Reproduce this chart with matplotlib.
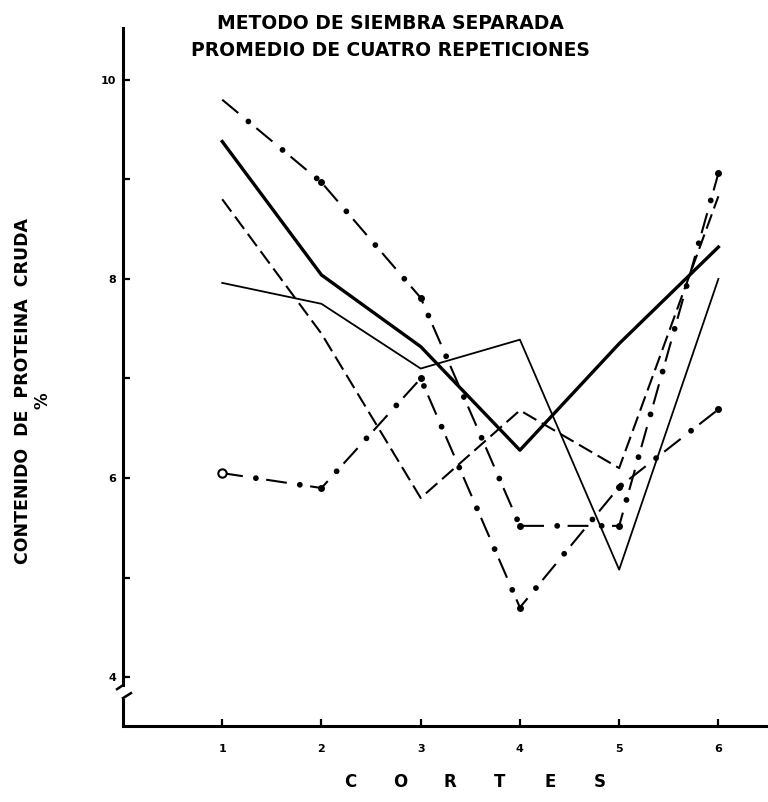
import matplotlib.pyplot as plt

plt.rcParams['font.family'] = ['DejaVu Sans']
plt.rcParams['lines.scale_dashes'] = False

# Data (crude protein %, per cut)
cortes = [1, 2, 3, 4, 5, 6]
linea_gruesa = [9.38, 8.04, 7.32, 6.28, 7.35, 8.32]
linea_fina = [7.96, 7.75, 7.10, 7.39, 5.08, 8.00]
linea_guiones = [8.80, 7.45, 5.80, 6.68, 6.10, 8.83]
linea_puntos_a = [9.80, 8.97, 7.81, 5.52, 5.52, 9.06]
linea_puntos_b = [6.05, 5.90, 7.00, 4.70, 5.91, 6.69]

yticks = [4, 5, 6, 7, 8, 9, 10]
ytick_labels = ['4', '', '6', '', '8', '', '10']
xlabel_letras = list('CORTES')

fig = plt.figure(figsize=(7.68, 8.02), dpi=100)
ax = fig.add_axes([123 / 768, 76 / 802, 1 - 123 / 768, 698 / 802])

ax.plot(cortes, linea_gruesa, color='black', lw=2.4)
ax.plot(cortes, linea_fina, color='black', lw=1.3)
ax.plot(cortes, linea_guiones, color='black', lw=1.5, linestyle=(0, (11, 4.5)))

# dash-dot lines with heavy dots
for serie in (linea_puntos_a, linea_puntos_b):
    ax.plot(cortes, serie, color='black', lw=1.5, linestyle=(0, (15, 17)))
    ax.plot(cortes, serie, color='black', lw=4.2, linestyle=(7.5, (0.01, 31.99)),
            dash_capstyle='round')
    ax.plot(cortes[1:], serie[1:], 'o', color='black', ms=4)
ax.plot(cortes[0], linea_puntos_b[0], 'o', mfc='white', mec='black', mew=1.5, ms=6)

ax.set_xlim(0, 6.5)
ax.set_ylim(3.51, 10.52)
ax.set_xticks(cortes)
ax.set_xticklabels([str(c) for c in cortes])
ax.set_yticks(yticks)
ax.set_yticklabels(ytick_labels)
ax.tick_params(direction='in', length=5, width=1.6, labelsize=8, pad=5)
ax.tick_params(axis='x', pad=13)
for lab in ax.get_xticklabels() + ax.get_yticklabels():
    lab.set_fontweight('bold')

for s in ('top', 'right'):
    ax.spines[s].set_visible(False)
ax.spines['bottom'].set_linewidth(2.2)
ax.spines['left'].set_linewidth(2.2)

# broken y axis
corte_alto = 3.92
corte_bajo = 3.79
ax.spines['left'].set_bounds(corte_alto, 10.52)
ax.plot([0, 0], [3.51, corte_bajo], color='black', lw=2.2, clip_on=False,
        solid_capstyle='butt')
ax.plot([0, -0.06], [corte_alto, corte_alto - 0.04], color='black', lw=1.8, clip_on=False)
ax.plot([0, 0.08], [corte_bajo, corte_bajo + 0.05], color='black', lw=1.8, clip_on=False)

fig.text(0.508, 0.971, 'METODO DE SIEMBRA SEPARADA', ha='center', va='center',
         fontsize=13.5, fontweight='bold')
fig.text(0.508, 0.937, 'PROMEDIO DE CUATRO REPETICIONES', ha='center', va='center',
         fontsize=13.5, fontweight='bold')
fig.text(23 / 768, 0.512, 'CONTENIDO  DE  PROTEINA  CRUDA', rotation=90,
         ha='center', va='center', fontsize=12.5, fontweight='bold')
fig.text(43 / 768, 0.5, '%', rotation=90, ha='center', va='center',
         fontsize=12, fontweight='bold')
for i, letra in enumerate(xlabel_letras):
    fig.text((350 + 50 * i) / 768, 0.025, letra, ha='center', va='center',
             fontsize=12, fontweight='bold')

plt.savefig('out.png', dpi=100)
